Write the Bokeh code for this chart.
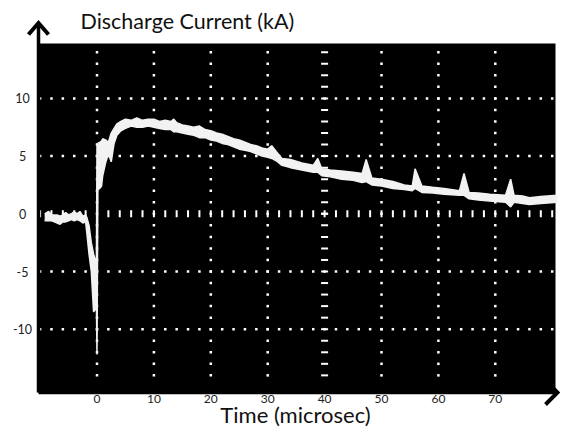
from bokeh.plotting import figure
from bokeh.models import Range1d
from bokeh.core.properties import value
from bokeh.embed import file_html
from bokeh.resources import INLINE

# ---- data ----
x_ticks = [0, 10, 20, 30, 40, 50, 60, 70]
x_tick_labels = ["0", "10", "20", "30", "40", "50", "60", "70"]
y_ticks = [-10, -5, 0, 5, 10]
y_tick_labels = ["-10", "-5", "0", "5", "10"]

# trace envelope: time (microsec), lower and upper edge (kA)
t = [-9.2, -8.5, -8.0, -7.5, -7.0, -6.5, -6.0, -5.5, -5.0, -4.5, -4.0, -3.5, -3.0, -2.5, -2.0,
     -1.8, -1.4, -1.0, -0.6, -0.3, -0.1, 0.0, 0.15, 0.5, 0.8, 1.0, 1.5, 2.0, 2.5, 3.0, 3.5, 4.2,
     5.0, 6.0, 7.0, 8.0, 9.0, 10.0, 11.0, 12.0, 13.0, 13.5, 14.0, 15.0, 16.0, 17.0, 18.0, 19.0, 20.0,
     21.0, 22.0, 23.0, 24.0, 25.0, 26.0, 27.0, 28.0, 29.0, 30.0, 30.7, 31.5, 32.5, 34.0, 36.0, 38.0,
     38.8, 39.5, 41.0, 43.0, 45.0, 46.6, 47.3, 48.3, 50.0, 52.0, 54.0, 55.4, 55.9, 57.1, 59.0, 61.0,
     63.7, 64.5, 65.4, 67.0, 69.0, 71.8, 72.7, 73.3, 74.8, 76.0, 78.0, 80.9]
upper = [0.0, 0.2, -0.1, -0.1, -0.1, -0.2, -0.1, 0.1, -0.1, 0.0, 0.2, 0.0, 0.2, -0.2, -0.1,
         -0.3, -1.0, -2.5, -3.5, -4.0, -4.0, 6.0, 6.1, 6.2, 6.3, 6.5, 6.4, 6.2, 7.0, 7.4, 7.8, 8.0,
         8.2, 8.1, 8.3, 8.1, 8.2, 8.2, 8.0, 8.1, 8.0, 8.2, 7.9, 7.7, 7.6, 7.5, 7.6, 7.3, 7.2,
         7.0, 6.9, 6.7, 6.5, 6.4, 6.2, 6.0, 5.9, 5.7, 5.6, 5.9, 5.4, 4.8, 4.7, 4.4, 4.2,
         4.8, 3.9, 3.8, 3.7, 3.6, 3.5, 4.7, 3.1, 3.0, 2.8, 2.5, 2.4, 3.9, 2.4, 2.3, 2.2,
         2.0, 3.5, 1.85, 1.8, 1.7, 1.6, 3.0, 1.6, 1.55, 1.4, 1.5, 1.6]
lower = [-0.6, -0.6, -0.6, -0.7, -0.8, -0.9, -0.7, -0.7, -0.6, -0.5, -0.6, -0.5, -0.6, -0.8, -0.7,
         -1.6, -3.5, -5.0, -8.5, -8.3, -8.0, -12.2, 2.1, 2.2, 2.4, 3.3, 4.4, 5.2, 4.5, 6.1, 6.8, 7.2,
         7.4, 7.6, 7.5, 7.5, 7.6, 7.5, 7.4, 7.3, 7.3, 7.1, 7.1, 7.0, 6.9, 6.8, 6.6, 6.6, 6.4,
         6.3, 6.1, 6.0, 5.8, 5.6, 5.5, 5.4, 5.2, 5.0, 4.9, 4.8, 4.6, 4.2, 4.0, 3.8, 3.6,
         3.6, 3.3, 3.2, 3.0, 2.9, 2.7, 2.8, 2.5, 2.4, 2.2, 2.1, 2.0, 2.2, 1.85, 1.8, 1.7,
         1.6, 1.6, 1.3, 1.2, 1.1, 1.0, 0.6, 1.0, 0.9, 0.8, 0.9, 1.0]

x_title = "Time (microsec)"
y_title = "Discharge Current (kA)"

# ---- pixel geometry of the canvas ----
W, H = 560, 429
X0, SX = 96.5, 5.69      # canvas x of time 0, px per microsec
Y0, SY = 213.3, 11.54    # canvas y of 0 kA, px per kA


def dx(px):
    return (px - X0) / SX


def dy(py):
    return (Y0 - py) / SY


p = figure(width=W, height=H, output_backend="svg", toolbar_location=None,
           x_range=Range1d(dx(0), dx(W)), y_range=Range1d(dy(H), dy(0)),
           min_border=0)
p.axis.visible = False
p.grid.visible = False
p.outline_line_color = None
p.background_fill_color = "white"
p.border_fill_color = "white"

# screen (black display area)
L, R, T, B = dx(38), dx(555), dy(43), dy(392)
p.quad(left=[L], right=[R], bottom=[B], top=[T], fill_color="black", line_color=None)

# oscilloscope graticule
fine_y = list(range(-14, 15))
fine_x = list(range(-10, 81, 2))
for gx in x_ticks:
    if gx == 40:
        p.scatter([gx] * len(fine_y), fine_y, marker="dash", size=7, line_width=2,
                  line_color="white")
    else:
        p.scatter([gx] * len(fine_y), fine_y, marker="square", size=2.5,
                  line_color=None, fill_color="white")
for gy in y_ticks:
    if gy == 0:
        p.scatter(fine_x, [gy] * len(fine_x), marker="dash", size=7, line_width=2,
                  angle=1.5708, line_color="white")
    else:
        p.scatter(fine_x, [gy] * len(fine_x), marker="square", size=2.5,
                  line_color=None, fill_color="white")
p.scatter([40], [0], marker="dash", size=7, line_width=2, line_color="white")

# trace
p.varea(x=t, y1=lower, y2=upper, fill_color="#f2f2f2")
p.line(t, upper, line_color="#f2f2f2", line_width=1.5)
p.line(t, lower, line_color="#f2f2f2", line_width=1.5)

# axes arrows
p.line([L, L], [B, dy(23)], line_color="black", line_width=3.5)
p.line([L, dx(557)], [B, B], line_color="black", line_width=3.5)
p.multi_line(xs=[[dx(28), dx(38), dx(48)], [dx(545), dx(557), dx(545)]],
             ys=[[dy(34), dy(22.5), dy(34)], [dy(380), dy(392), dy(404)]],
             line_color="black", line_width=4, line_join="miter")

# tick labels
p.text(x=x_ticks, y=[dy(398)] * len(x_ticks), text=x_tick_labels,
       text_font=value("Lato"), text_font_size="12px", text_color="#222222",
       text_align="center", text_baseline="middle")
p.text(x=[dx(22)] * len(y_ticks), y=y_ticks, text=y_tick_labels,
       text_font=value("Lato"), text_font_size="12.5px", text_color="#222222",
       text_align="center", text_baseline="middle")

# titles
p.text(x=[dx(80)], y=[dy(20.5)], text=[y_title], text_font=value("Lato"),
       text_font_size="21.5px", text_color="#111111", text_align="left",
       text_baseline="middle")
p.text(x=[dx(295)], y=[dy(414)], text=[x_title], text_font=value("Lato"),
       text_font_size="22px", text_color="#111111", text_align="center",
       text_baseline="middle")

open("out.html", "w").write(file_html(p, INLINE))
